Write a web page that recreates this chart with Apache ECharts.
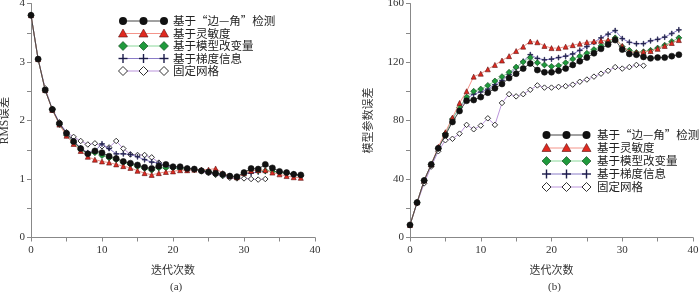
<!DOCTYPE html>
<html>
<head>
<meta charset="utf-8">
<script src="https://cdn.jsdelivr.net/npm/echarts@6/dist/echarts.min.js"></script>
<style>
  html, body { margin: 0; padding: 0; background: #fff; }
  #chart { width: 700px; height: 292px; }
</style>
</head>
<body>
<div id="chart"></div>
<script>
// 图例名称
var seriesNames = ['基于“边—角”检测', '基于灵敏度', '基于模型改变量', '基于梯度信息', '固定网格'];

// (a) RMS误差
var rmsEdgeAngle = [3.8, 3.05, 2.52, 2.19, 1.95, 1.78, 1.64, 1.52, 1.43, 1.48, 1.45, 1.39, 1.35, 1.30, 1.27, 1.24, 1.20, 1.18, 1.22, 1.25,
    1.21, 1.21, 1.18, 1.17, 1.14, 1.12, 1.10, 1.08, 1.05, 1.04, 1.11, 1.18, 1.17, 1.25, 1.19, 1.13, 1.11, 1.08, 1.07];
var rmsSensitivity = [3.8, 3.05, 2.52, 2.18, 1.93, 1.74, 1.60, 1.48, 1.38, 1.33, 1.30, 1.28, 1.25, 1.22, 1.19, 1.14, 1.10, 1.07, 1.10, 1.12,
    1.13, 1.15, 1.15, 1.16, 1.16, 1.16, 1.18, 1.10, 1.05, 1.03, 1.10, 1.14, 1.15, 1.15, 1.11, 1.08, 1.05, 1.03, 1.02];
var rmsModelChange = [3.8, 3.05, 2.52, 2.19, 1.93, 1.75, 1.62, 1.50, 1.43, 1.45, 1.40, 1.36, 1.33, 1.28, 1.25, 1.21, 1.18, 1.15, 1.19, 1.19,
    1.19, 1.18, 1.17, 1.16, 1.14, 1.13, 1.09, 1.07, 1.05, 1.03, 1.10, 1.15, 1.14, 1.14, 1.13, 1.11, 1.10, 1.08, 1.06];
var rmsGradient = [3.8, 3.05, 2.52, 2.19, 1.95, 1.78, 1.65, 1.53, 1.45, 1.48, 1.60, 1.52, 1.43, 1.43, 1.42, 1.38, 1.33, 1.29, 1.27, 1.23,
    1.20, 1.19, 1.18, 1.17, 1.15, 1.12, 1.09, 1.07, 1.05, 1.04, 1.09, 1.10, 1.12, 1.13, 1.13, 1.12, 1.10, 1.08, 1.05];
var rmsFixedGrid = [3.8, 3.05, 2.55, 2.20, 1.97, 1.80, 1.72, 1.65, 1.59, 1.61, 1.56, 1.54, 1.65, 1.52, 1.42, 1.41, 1.41, 1.37, 1.28, 1.22,
    1.19, 1.17, 1.15, 1.16, 1.13, 1.10, 1.07, 1.05, 1.02, 1.01, 1.01, 1.00, 0.99, 1.00];

// (b) 模型参数误差
var parEdgeAngle = [8.6, 23.9, 39, 50, 61, 70, 79, 86.5, 93.5, 94, 96, 99, 102, 105, 109, 112, 115.5, 119, 114.5, 113,
    113, 114, 115.5, 118, 120.5, 123, 126, 129, 132, 135, 128.5, 125.5, 125, 123.5, 122.5, 123, 123, 124, 125];
var parSensitivity = [8.6, 24, 39, 50, 62, 72, 82, 92, 100, 110, 112, 115, 118, 121, 124, 127.5, 130.5, 134, 133.5, 131,
    129.5, 129.5, 130.5, 131.5, 132.5, 133.5, 134, 134.5, 135, 136, 131, 127, 126.5, 127, 127.5, 129, 131, 133, 135];
var parModelChange = [8.6, 24, 39, 50, 61, 71, 81, 89, 96, 100, 101.5, 104, 107, 110, 113, 116.5, 120, 123, 119.5, 118,
    117, 117.5, 119.5, 122, 124, 126, 128.5, 131, 134, 136.5, 130.5, 128, 126.5, 127, 128, 129.5, 131.5, 134, 136.5];
var parGradient = [8.6, 24, 39, 50, 61, 71, 81, 88.5, 95, 98, 99.5, 101.5, 104.5, 107.5, 111.5, 116, 120.5, 125, 122.5, 121.5,
    122, 123, 124, 125.5, 128, 130.5, 133.5, 136.5, 139, 141.5, 136, 133.5, 132.5, 132.5, 134.5, 135.5, 137, 139.5, 142];
var parFixedGrid = [8.6, 23.5, 37, 48.5, 59, 66.5, 67.5, 71, 77, 74, 76.5, 81.5, 77, 92, 98, 96.5, 98, 101, 104, 102.5,
    102.5, 103, 103.5, 104.5, 106.5, 108, 110, 112, 114, 116.5, 115.5, 116.5, 118, 117.5];

var numFont = "'Liberation Serif', 'Noto Sans CJK SC', serif";
var cjkFont = "'Noto Sans CJK SC', sans-serif";
var plusPath = 'path://M4.3,0H5.7V4.3H10V5.7H5.7V10H4.3V5.7H0V4.3H4.3Z';

// 每条曲线的样式
var styles = [
    { symbol: 'circle', size: 6, color: '#111', border: '#111', line: '#444' },
    { symbol: 'triangle', size: 5, color: '#e02a20', border: '#5a1010', line: '#f4948a' },
    { symbol: 'diamond', size: 6, color: '#1f9a3c', border: '#0d3d18', line: '#8ad89a' },
    { symbol: plusPath, size: 5, color: '#1c1c4a', border: '#1c1c4a', line: '#8a7cc8' },
    { symbol: 'diamond', size: 5.5, color: '#fff', border: '#333', line: '#bb95dc' }
];

function toPairs(arr) {
    var out = [];
    for (var i = 0; i < arr.length; i++) out.push([i, arr[i]]);
    return out;
}

function makeSeries(dataList, axisIndex) {
    var order = [4, 3, 2, 1, 0];
    return order.map(function (k) {
        var s = styles[k];
        return {
            name: seriesNames[k],
            type: 'line',
            xAxisIndex: axisIndex,
            yAxisIndex: axisIndex,
            data: toPairs(dataList[k]),
            symbol: s.symbol,
            symbolSize: s.size,
            showAllSymbol: true,
            animation: false,
            z: 2 + (4 - k),
            lineStyle: { color: s.line, width: 1 },
            itemStyle: { color: s.color, borderColor: s.border, borderWidth: k === 4 ? 1 : 0.6 }
        };
    });
}

function legendGraphic(xs, ys, textX) {
    var els = [];
    for (var k = 0; k < 5; k++) {
        var s = styles[k], y = ys[k];
        els.push({ type: 'line', shape: { x1: xs[0], y1: y, x2: xs[2], y2: y }, style: { stroke: s.line, lineWidth: 1 } });
        for (var j = 0; j < 3; j++) {
            var x = xs[j];
            if (k === 0) {
                els.push({ type: 'circle', shape: { cx: x, cy: y, r: 4 }, style: { fill: '#111' } });
            } else if (k === 1) {
                els.push({ type: 'polygon', shape: { points: [[x, y - 4.5], [x + 4.5, y + 3.5], [x - 4.5, y + 3.5]] }, style: { fill: s.color, stroke: s.border, lineWidth: 0.6 } });
            } else if (k === 2 || k === 4) {
                els.push({ type: 'polygon', shape: { points: [[x, y - 4.5], [x + 4.5, y], [x, y + 4.5], [x - 4.5, y]] }, style: { fill: s.color, stroke: s.border, lineWidth: k === 4 ? 1 : 0.6 } });
            } else {
                els.push({ type: 'line', shape: { x1: x - 4.5, y1: y, x2: x + 4.5, y2: y }, style: { stroke: s.color, lineWidth: 1.4 } });
                els.push({ type: 'line', shape: { x1: x, y1: y - 4.5, x2: x, y2: y + 4.5 }, style: { stroke: s.color, lineWidth: 1.4 } });
            }
        }
        els.push({ type: 'text', x: textX, y: y, style: { text: seriesNames[k], fill: '#222', font: '11.5px ' + cjkFont, verticalAlign: 'middle' } });
    }
    return els;
}

function xAxisCfg(gridIndex) {
    return {
        type: 'value', gridIndex: gridIndex, min: 0, max: 40, interval: 5,
        name: '迭代次数', nameLocation: 'middle', nameGap: 27,
        nameTextStyle: { fontFamily: cjkFont, fontSize: 11, color: '#333' },
        axisLine: { lineStyle: { color: '#888', width: 1 } },
        axisTick: { length: 4, lineStyle: { color: '#888' } },
        axisLabel: {
            fontFamily: numFont, fontSize: 11, color: '#333', margin: 7,
            formatter: function (v) { return v % 10 === 0 ? String(v) : ''; }
        },
        splitLine: { show: false }
    };
}

var chartDom = document.getElementById('chart');
var myChart = echarts.init(chartDom);
var option;

option = {
    backgroundColor: '#fff',
    animation: false,
    grid: [
        { left: 31, top: 3.5, width: 284, height: 234, outerBoundsMode: 'none', containLabel: false },
        { left: 410, top: 3.5, width: 283, height: 234, outerBoundsMode: 'none', containLabel: false }
    ],
    xAxis: [xAxisCfg(0), xAxisCfg(1)],
    yAxis: [{
        type: 'value', gridIndex: 0, min: 0, max: 4, interval: 0.5,
        name: 'RMS误差', nameLocation: 'middle', nameGap: 20, nameRotate: 90,
        nameTextStyle: { fontFamily: numFont, fontSize: 11.5, color: '#333' },
        axisLine: { show: true, lineStyle: { color: '#888', width: 1 } },
        axisTick: { show: true, length: 4, lineStyle: { color: '#888' } },
        axisLabel: {
            fontFamily: numFont, fontSize: 11, color: '#333', margin: 6,
            formatter: function (v) { return v % 1 === 0 ? String(v) : ''; }
        },
        splitLine: { show: false }
    }, {
        type: 'value', gridIndex: 1, min: 0, max: 160, interval: 20,
        name: '模型参数误差', nameLocation: 'middle', nameGap: 37, nameRotate: 90,
        nameTextStyle: { fontFamily: cjkFont, fontSize: 11, color: '#333' },
        axisLine: { show: true, lineStyle: { color: '#888', width: 1 } },
        axisTick: { show: true, length: 4, lineStyle: { color: '#888' } },
        axisLabel: {
            fontFamily: numFont, fontSize: 11, color: '#333', margin: 6,
            formatter: function (v) { return v % 40 === 0 ? String(v) : ''; }
        },
        splitLine: { show: false }
    }],
    title: [
        { text: '(a)', left: 165, top: 277, textStyle: { fontFamily: numFont, fontSize: 11, fontWeight: 'normal', color: '#333' } },
        { text: '(b)', left: 543, top: 277, textStyle: { fontFamily: numFont, fontSize: 11, fontWeight: 'normal', color: '#333' } }
    ],
    graphic: legendGraphic([123, 143.5, 164], [21, 33.5, 46, 58.5, 71], 173)
        .concat(legendGraphic([546.5, 566.5, 586.5], [135, 148, 161, 174, 187], 597)),
    series: makeSeries([rmsEdgeAngle, rmsSensitivity, rmsModelChange, rmsGradient, rmsFixedGrid], 0)
        .concat(makeSeries([parEdgeAngle, parSensitivity, parModelChange, parGradient, parFixedGrid], 1))
};

option && myChart.setOption(option);
</script>
</body>
</html>
